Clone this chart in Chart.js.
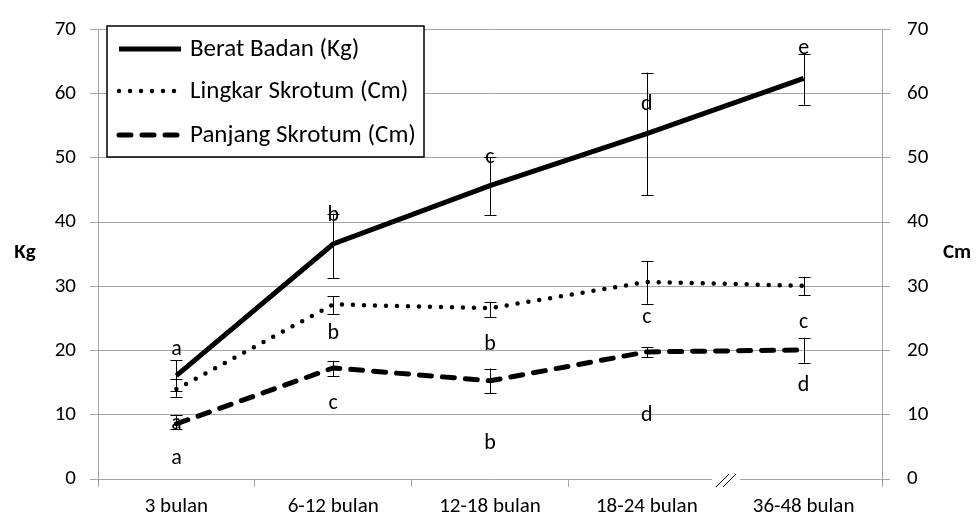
<!DOCTYPE html>
<html>
<head>
<meta charset="utf-8">
<script src="https://cdn.jsdelivr.net/npm/chart.js@4.4.1/dist/chart.umd.min.js"></script>
<style>
  body { margin: 0; background: #fff; }
  #wrap { width: 979px; height: 524px; position: relative; }
</style>
</head>
<body>
<div id="wrap"><canvas id="myChart"></canvas></div>
<script>
// Data
const categories = ['3 bulan', '6-12 bulan', '12-18 bulan', '18-24 bulan', '36-48 bulan'];

const beratBadan = [16.1, 36.6, 45.7, 53.8, 62.4];
const beratLow = [13.7, 31.3, 41.1, 44.2, 58.3];
const beratHigh = [18.5, 41.3, 50.1, 63.3, 66.2];
const beratLetters = ['a', 'b', 'c', 'd', 'e'];
const beratLetterAt = [20.2, 41.0, 50.1, 58.4, 67.0];

const lingkarSkrotum = [14.0, 27.2, 26.6, 30.7, 30.1];
const lingkarLow = [12.8, 25.7, 25.2, 27.3, 28.6];
const lingkarHigh = [15.5, 28.5, 27.6, 33.9, 31.5];
const lingkarLetters = ['a', 'b', 'b', 'c', 'c'];
const lingkarLetterAt = [8.6, 22.6, 21.0, 25.2, 24.4];

const panjangSkrotum = [8.6, 17.3, 15.3, 19.8, 20.1];
const panjangLow = [7.8, 16.0, 13.4, 19.0, 18.1];
const panjangHigh = [10.0, 18.4, 17.2, 20.5, 22.0];
const panjangLetters = ['a', 'c', 'b', 'd', 'd'];
const panjangLetterAt = [3.2, 11.7, 5.6, 9.9, 14.6];

const yTicksMax = 70;
const fontFamily = 'Carlito, Lato, "Open Sans", sans-serif';
const gridGray = '#a6a6a6';

// error bars + significance letters, drawn through the chart scales
const errorBarPlugin = {
    id: 'errorBars',
    afterDatasetsDraw(chart) {
        const ctx = chart.ctx;
        const xs = chart.scales.x;
        const ys = chart.scales.y;
        const groups = [
            [beratLow, beratHigh, beratLetters, beratLetterAt],
            [lingkarLow, lingkarHigh, lingkarLetters, lingkarLetterAt],
            [panjangLow, panjangHigh, panjangLetters, panjangLetterAt]
        ];
        ctx.save();
        ctx.strokeStyle = '#000';
        ctx.lineWidth = 1;
        groups.forEach(([lo, hi]) => {
            lo.forEach((v, i) => {
                const x = Math.round(xs.getPixelForValue(i)) + 0.5;
                const y1 = ys.getPixelForValue(v);
                const y2 = ys.getPixelForValue(hi[i]);
                ctx.beginPath();
                ctx.moveTo(x, y1); ctx.lineTo(x, y2);
                ctx.moveTo(x - 6, Math.round(y1) + 0.5); ctx.lineTo(x + 6, Math.round(y1) + 0.5);
                ctx.moveTo(x - 6, Math.round(y2) + 0.5); ctx.lineTo(x + 6, Math.round(y2) + 0.5);
                ctx.stroke();
            });
        });
        ctx.fillStyle = '#000';
        ctx.font = '22px ' + fontFamily;
        ctx.textAlign = 'center';
        ctx.textBaseline = 'middle';
        groups.forEach(([, , letters, at]) => {
            letters.forEach((t, i) => {
                ctx.fillText(t, xs.getPixelForValue(i), ys.getPixelForValue(at[i]));
            });
        });
        ctx.restore();
    }
};

// boxed legend, axis titles and the axis break mark
const decorPlugin = {
    id: 'decor',
    afterDraw(chart) {
        const ctx = chart.ctx;
        ctx.save();
        // axis break on the category axis
        const yAxis = chart.chartArea.bottom;
        ctx.fillStyle = '#fff';
        ctx.fillRect(712, yAxis - 5, 28, 14);
        ctx.strokeStyle = '#000';
        ctx.lineWidth = 1;
        ctx.beginPath();
        ctx.moveTo(716, yAxis + 8); ctx.lineTo(729, yAxis - 5);
        ctx.moveTo(723, yAxis + 8); ctx.lineTo(736, yAxis - 5);
        ctx.stroke();

        // axis titles
        ctx.fillStyle = '#000';
        ctx.font = 'bold 21px ' + fontFamily;
        ctx.textBaseline = 'middle';
        ctx.textAlign = 'center';
        ctx.fillText('Kg', 25, 253);
        ctx.fillText('Cm', 957, 253);

        // legend
        ctx.lineWidth = 1.5;
        ctx.strokeStyle = '#000';
        ctx.fillStyle = '#fff';
        ctx.fillRect(107, 26, 317, 131);
        ctx.strokeRect(107, 26, 317, 131);
        const rows = [49, 91, 135];
        ctx.font = '25px ' + fontFamily;
        ctx.textAlign = 'left';
        chart.data.datasets.forEach((ds, i) => {
            ctx.beginPath();
            ctx.lineWidth = ds.borderWidth;
            ctx.lineCap = ds.borderCapStyle || 'butt';
            ctx.setLineDash(ds.borderDash || []);
            ctx.moveTo(119, rows[i]);
            ctx.lineTo(181, rows[i]);
            ctx.stroke();
            ctx.setLineDash([]);
            ctx.fillStyle = '#000';
            ctx.fillText(ds.label, 190, rows[i] + 1);
        });
        ctx.restore();
    }
};

const chartCanvas = document.getElementById('myChart');
new Chart(chartCanvas, {
    type: 'line',
    data: {
        labels: categories,
        datasets: [{
            label: 'Berat Badan (Kg)',
            data: beratBadan,
            borderColor: '#000',
            borderWidth: 5,
            borderCapStyle: 'butt',
            pointRadius: 0,
            tension: 0
        }, {
            label: 'Lingkar Skrotum (Cm)',
            data: lingkarSkrotum,
            borderColor: '#000',
            borderWidth: 4.5,
            borderDash: [0, 11],
            borderCapStyle: 'round',
            pointRadius: 0,
            tension: 0
        }, {
            label: 'Panjang Skrotum (Cm)',
            data: panjangSkrotum,
            borderColor: '#000',
            borderWidth: 5,
            borderDash: [12, 11],
            borderCapStyle: 'round',
            pointRadius: 0,
            tension: 0
        }]
    },
    options: {
        responsive: true,
        maintainAspectRatio: false,
        animation: false,
        layout: { padding: { top: 18, left: 0, right: 0, bottom: 0 } },
        scales: {
            x: {
                type: 'category',
                offset: true,
                grid: { offset: true, drawOnChartArea: false, tickLength: 8, color: gridGray, lineWidth: 1 },
                border: { color: gridGray, width: 1 },
                ticks: { padding: 7, color: '#000', font: { size: 21, family: fontFamily }, maxRotation: 0, autoSkip: false },
                afterFit(scale) { scale.height = 45; }
            },
            y: {
                position: 'left',
                min: 0,
                max: yTicksMax,
                ticks: { stepSize: 10, padding: 14, color: '#000', font: { size: 21, family: fontFamily } },
                grid: { color: gridGray, tickLength: 8, lineWidth: 1 },
                border: { color: gridGray, width: 1 },
                afterFit(scale) { scale.width = 98; }
            },
            y2: {
                position: 'right',
                min: 0,
                max: yTicksMax,
                ticks: { stepSize: 10, padding: 17, color: '#000', font: { size: 21, family: fontFamily } },
                grid: { drawOnChartArea: false, color: gridGray, tickLength: 8, lineWidth: 1 },
                border: { color: gridGray, width: 1 },
                afterFit(scale) { scale.width = 97; }
            }
        },
        plugins: {
            legend: { display: false },
            tooltip: { enabled: false }
        }
    },
    plugins: [errorBarPlugin, decorPlugin]
});
</script>
</body>
</html>
